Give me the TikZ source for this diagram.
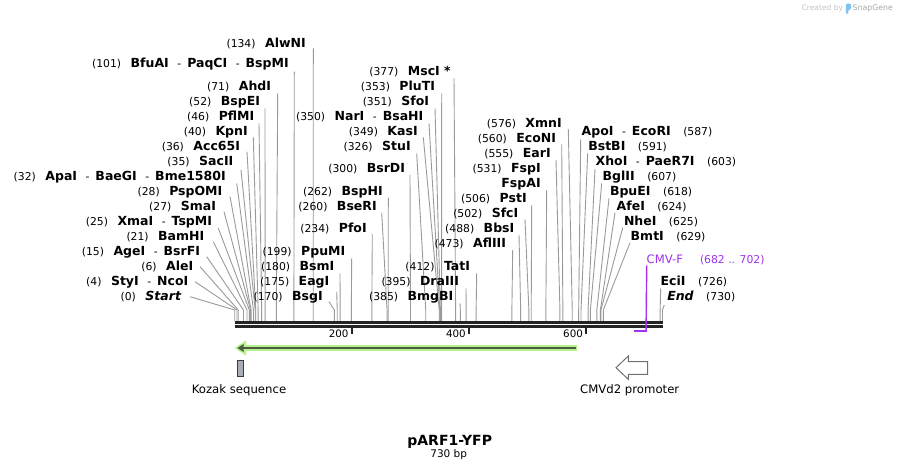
\documentclass[tikz,border=0pt]{standalone}
\usepackage{fontspec}
\setmainfont{DejaVu Sans}[BoldFont={DejaVu Sans Bold},ItalicFont={DejaVu Sans Oblique},BoldItalicFont={DejaVu Sans Bold Oblique}]
\usetikzlibrary{calc,arrows.meta}
\definecolor{leadgray}{HTML}{9A9A9A}
\definecolor{bbdark}{HTML}{242424}
\definecolor{primerpurple}{HTML}{A032F0}
\definecolor{yfplight}{HTML}{B6F28C}
\definecolor{yfpdark}{HTML}{4E5A44}
\definecolor{kozakfill}{HTML}{A9AEB6}
\definecolor{kozakline}{HTML}{3C3C3C}
\definecolor{promline}{HTML}{707070}
\definecolor{wmlight}{HTML}{C4C4C4}
\definecolor{wmdark}{HTML}{A8A8A8}
\definecolor{snapblue}{HTML}{7FC3EE}
\newcommand\fs[1]{\fontsize{#1}{#1}\selectfont}
\newcommand\nm[1]{{\fs{10.8}(#1)}}
\newcommand\bn[1]{{\fs{12.5}\bfseries #1}}
\newcommand\dsh{\hspace{8.5pt}{\fs{10.8}-}\hspace{6pt}}
\newcommand\gp{\hspace{9.5pt}}
\newcommand\gq{\hspace{12.5pt}}
\tikzset{
  lbl/.style={inner sep=0pt, outer sep=0pt, text=black},
  leader/.style={draw=leadgray, line width=0.9pt},
}
% left/middle labels: anchored at right end of name
\newcommand\enzL[7]{%
  \node[lbl,anchor=base east] (#1) at (#2,#3) {#7};
  \coordinate (#1-s) at ({234.7+#6*0.586},310);
  \coordinate (#1-b) at ({234.7+#6*0.586},321);
  \draw[leader] ($(#1.base east)+(#4,#5)$) -- (#1-s) -- (#1-b);}
% right labels: anchored at left start of name
\newcommand\enzR[7]{%
  \node[lbl,anchor=base west] (#1) at (#2,#3) {#7};
  \coordinate (#1-s) at ({234.7+#6*0.586},310);
  \coordinate (#1-b) at ({234.7+#6*0.586},321);
  \draw[leader] ($(#1.base west)+(#4,#5)$) -- (#1-s) -- (#1-b);}
\begin{document}
\begin{tikzpicture}[x=1pt,y=-1pt]
\useasboundingbox (0,0) rectangle (899,471);
\fill[white] (0,0) rectangle (899,471);

% ---- left group
\enzL{alwni}{305.7}{47}{7.6}{1.3}{134}{\nm{134}\gp\bn{AlwNI}}
\enzL{bfuai}{288.7}{67.7}{5.6}{4}{101}{\nm{101}\gp\bn{BfuAI}\dsh\bn{PaqCI}\dsh\bn{BspMI}}
\enzL{ahdi}{271}{90.7}{6.7}{2.6}{71}{\nm{71}\gp\bn{AhdI}}
\enzL{bspei}{260}{105.7}{5}{2.6}{52}{\nm{52}\gp\bn{BspEI}}
\enzL{pflmi}{254.3}{120.7}{4.7}{2.6}{46}{\nm{46}\gp\bn{PflMI}}
\enzL{kpni}{247.7}{135.7}{5.6}{1.6}{40}{\nm{40}\gp\bn{KpnI}}
\enzL{acc}{240}{150.7}{7}{1}{36}{\nm{36}\gp\bn{Acc65I}}
\enzL{sacii}{233.3}{165.7}{7.7}{4.3}{35}{\nm{35}\gp\bn{SacII}}
\enzL{apai}{225.7}{180.7}{11}{2.6}{32}{\nm{32}\gp\bn{ApaI}\dsh\bn{BaeGI}\dsh\bn{Bme1580I}}
\enzL{pspomi}{222.3}{195.7}{7.7}{1}{28}{\nm{28}\gp\bn{PspOMI}}
\enzL{smai}{216}{210.7}{8}{1}{27}{\nm{27}\gp\bn{SmaI}}
\enzL{xmai}{212}{225.7}{6.3}{2.6}{25}{\nm{25}\gp\bn{XmaI}\dsh\bn{TspMI}}
\enzL{bamhi}{204.3}{240.7}{9}{1}{21}{\nm{21}\gp\bn{BamHI}}
\enzL{agei}{200}{255.7}{6.7}{1}{15}{\nm{15}\gp\bn{AgeI}\dsh\bn{BsrFI}}
\enzL{alei}{193.3}{270.7}{6.7}{-4}{6}{\nm{6}\gp\bn{AleI}}
\enzL{styi}{188.3}{285.7}{6.7}{-4}{4}{\nm{4}\gp\bn{StyI}\dsh\bn{NcoI}}
\enzL{start}{181}{300.7}{9}{-4}{0}{\nm{0}\gp{\fs{12.5}\bfseries\itshape Start}}

% ---- middle group
\enzL{msci}{450.7}{75.7}{3.3}{2.3}{377}{\nm{377}\gp\bn{MscI *}}
\enzL{pluti}{435}{90.7}{6.7}{2.6}{353}{\nm{353}\gp\bn{PluTI}}
\enzL{sfoi}{429}{105.7}{6}{2.6}{351}{\nm{351}\gp\bn{SfoI}}
\enzL{nari}{423.3}{120.7}{5.7}{2.6}{350}{\nm{350}\gp\bn{NarI}\dsh\bn{BsaHI}}
\enzL{kasi}{417.7}{135.7}{5.6}{1.6}{349}{\nm{349}\gp\bn{KasI}}
\enzL{stui}{410.7}{150.7}{6}{2.6}{326}{\nm{326}\gp\bn{StuI}}
\enzL{bsrdi}{405}{172.3}{5}{2.7}{300}{\nm{300}\gp\bn{BsrDI}}
\enzL{bsphi}{382.7}{195.7}{5.6}{2}{262}{\nm{262}\gp\bn{BspHI}}
\enzL{bseri}{376.7}{210.7}{5}{2}{260}{\nm{260}\gp\bn{BseRI}}
\enzL{pfoi}{366.7}{232.3}{5.6}{2}{234}{\nm{234}\gp\bn{PfoI}}
\enzL{ppumi}{345.3}{255.7}{6.4}{2.6}{199}{\nm{199}\gp\bn{PpuMI}}
\enzL{bsmi}{334.3}{270.7}{5.7}{2.6}{180}{\nm{180}\gp\bn{BsmI}}
\enzL{eagi}{329.3}{285.7}{7.4}{6}{175}{\nm{175}\gp\bn{EagI}}
\enzL{bsgi}{322.7}{300.7}{6.3}{1}{170}{\nm{170}\gp\bn{BsgI}}
\enzL{tati}{470}{270.7}{6.7}{2.6}{412}{\nm{412}\gp\bn{TatI}}
\enzL{draiii}{459}{285.7}{7}{2.6}{395}{\nm{395}\gp\bn{DraIII}}
\enzL{bmgbi}{453.3}{300.7}{6.7}{2.6}{385}{\nm{385}\gp\bn{BmgBI}}

% ---- middle-right group
\enzL{xmni}{561.7}{127.7}{6.6}{1.6}{576}{\nm{576}\gp\bn{XmnI}}
\enzL{econi}{556}{142.7}{5.7}{1.6}{560}{\nm{560}\gp\bn{EcoNI}}
\enzL{eari}{550.7}{157.3}{5.3}{2.7}{555}{\nm{555}\gp\bn{EarI}}
\node[lbl,anchor=base east] (fspi) at (540.7,172.7) {\nm{531}\gp\bn{FspI}};
\enzL{fspai}{540.7}{187.3}{6}{2.7}{531}{\bn{FspAI}}
\enzL{psti}{526.7}{202.3}{5}{2.7}{506}{\nm{506}\gp\bn{PstI}}
\enzL{sfci}{518.3}{217.3}{6.7}{2}{502}{\nm{502}\gp\bn{SfcI}}
\enzL{bbsi}{514.3}{232.3}{4.7}{2.7}{488}{\nm{488}\gp\bn{BbsI}}
\enzL{afliii}{506}{247.3}{6.7}{2.7}{473}{\nm{473}\gp\bn{AflIII}}

% ---- right group
\enzR{apoi}{581.7}{135.7}{-1}{3.6}{587}{\bn{ApoI}\dsh\bn{EcoRI}\gq\nm{587}}
\enzR{bstbi}{588.3}{150.7}{-0.6}{2.6}{591}{\bn{BstBI}\gq\nm{591}}
\enzR{xhoi}{595.7}{165.7}{-0.7}{3.3}{603}{\bn{XhoI}\dsh\bn{PaeR7I}\gq\nm{603}}
\enzR{bglii}{602.7}{180.7}{-1}{2.6}{607}{\bn{BglII}\gq\nm{607}}
\enzR{bpuei}{610}{195.7}{-1}{2.6}{618}{\bn{BpuEI}\gq\nm{618}}
\enzR{afei}{616.7}{210.7}{-1.7}{2}{624}{\bn{AfeI}\gq\nm{624}}
\enzR{nhei}{624}{225.7}{-1.3}{2}{625}{\bn{NheI}\gq\nm{625}}
\enzR{bmti}{630.7}{240.7}{-0.7}{2}{629}{\bn{BmtI}\gq\nm{629}}
\enzR{ecii}{660.7}{285.7}{0}{2.6}{726}{\bn{EciI}\gq\nm{726}}
\enzR{end}{667.3}{300.7}{-3}{4.3}{730}{{\fs{12.5}\bfseries\itshape End}\gq\nm{730}}

% ---- backbone
\coordinate (bbL) at (234.5,322.5);
\coordinate (bbR) at (663,322.5);
\draw[bbdark, line width=3pt] (bbL) -- (bbR);
\draw[bbdark, line width=2.7pt] ([yshift=-4.2pt]bbL) -- ([yshift=-4.2pt]bbR);
\foreach \v/\n in {200/t2,400/t4,600/t6}{
  \coordinate (\n) at ({234.7+\v*0.586},326);
  \draw[bbdark, line width=2pt] (\n) -- ++(0,8);
  \node[lbl, anchor=base east] at ($(\n)+(-3.4,11.3)$) {\fs{10.3}\v};
}

% ---- primer CMV-F
\node[lbl, anchor=base west, text=primerpurple] (cmvf) at (646.7,263) {\fs{11.6}CMV-F};
\node[lbl, anchor=base west, text=primerpurple] (cmvfpos) at (700,263) {\fs{10.8}(682 .. 702)};
\coordinate (cmvf-end) at ({234.7+702*0.586},330.6);
\coordinate (cmvf-start) at ({234.7+682*0.586},330.6);
\draw[primerpurple, line width=1.4pt] ($(cmvf.base west)+(0,2.3)$) -- (cmvf-end);
\draw[primerpurple, line width=2pt] (cmvf-start) -- ([xshift=0.7pt]cmvf-end);

% ---- YFP feature arrow
\draw[yfplight, line width=5.5pt] (577,348) -- (242,348);
\fill[yfplight] (234.5,348) -- (246,340.5) -- (246,355.5) -- cycle;
\draw[yfpdark, line width=2.2pt, -{Triangle[length=6pt,width=7.5pt]}] (576,348) -- (237.5,348);

% ---- Kozak sequence
\node[draw=kozakline, fill=kozakfill, line width=1pt, minimum width=6.5pt, minimum height=16.5pt, inner sep=0pt] (kozak) at (240.5,368.3) {};
\node[lbl, anchor=base] (kozaklbl) at (239,393.3) {\fs{11.7}Kozak sequence};

% ---- CMVd2 promoter
\draw[promline, line width=1pt, fill=white] (616,367.7) -- (628.3,356) -- (628.3,361.7) -- (647.7,361.7) -- (647.7,374.3) -- (628.3,374.3) -- (628.3,379.3) -- cycle;
\node[lbl, anchor=base] (cmvlbl) at (629.7,393.3) {\fs{11.7}CMVd2 promoter};

% ---- title
\node[lbl, anchor=base] (title) at (449.7,445) {\fs{14}\bfseries pARF1-YFP};
\node[lbl, anchor=base] (size) at (448.7,457.7) {\fs{10.5}730 bp};

% ---- watermark
\node[lbl, anchor=base west, text=wmlight] (wm1) at (801.7,10.5) {\fs{7.5}Created by};
\fill[snapblue, rounded corners=1.2pt] (845.8,14) -- (845.8,3.5) -- (851,3.5) -- (851,9.5) -- (848.3,9.5) -- (848.3,14) -- cycle;
\node[lbl, anchor=base west, text=wmdark] (wm2) at (852.7,10.5) {\fs{7.8}SnapGene};
\end{tikzpicture}
\end{document}
